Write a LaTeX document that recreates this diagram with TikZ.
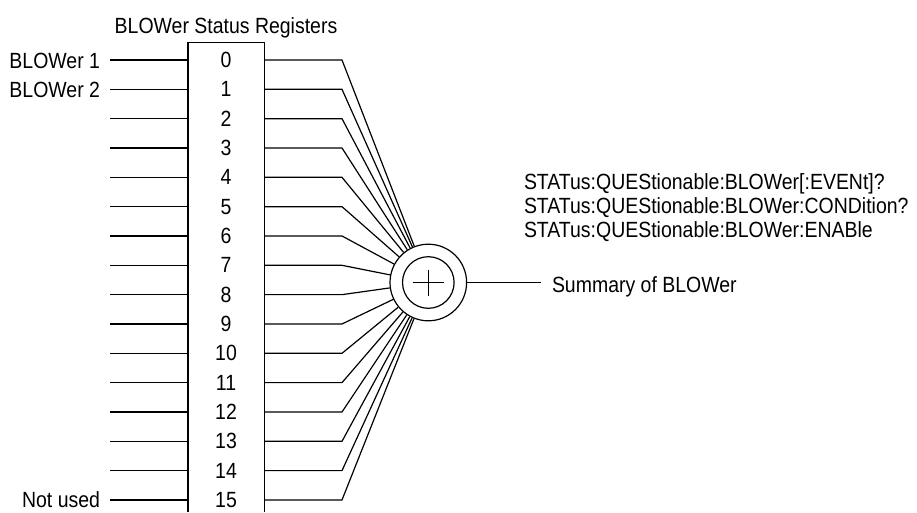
\documentclass[tikz,border=0pt]{standalone}
\usepackage{fontspec}
\setmainfont[FakeStretch=0.885]{Liberation Sans}
\begin{document}
\begin{tikzpicture}[x=1pt,y=-1pt, line width=1.2pt,
  lbl/.style={font=\fontsize{22}{26}\selectfont, inner sep=0pt, outer sep=0pt}]
\useasboundingbox (0,0) rectangle (917,512);
% summation circle
\node[draw, circle, minimum size=76.6pt, inner sep=0pt] (sum) at (428.3,282.5) {};
\draw (sum.center) circle[radius=25.8];
\draw ([xshift=-15.8pt]sum.center) -- ([xshift=15.8pt]sum.center);
\draw ([yshift=13pt]sum.center) -- ([yshift=-13pt]sum.center);
% register box
\coordinate (boxBL) at (188,512);
\coordinate (boxTL) at (188,42.7);
\coordinate (boxTR) at (264.3,42.7);
\coordinate (boxBR) at (264.3,512);
\draw (boxBL) -- (boxTL) -- (boxTR) -- (boxBR);
\node[lbl, anchor=base] (title) at (226,33) {BLOWer Status Registers};
% rows
\foreach \i in {0,...,15}{
  \pgfmathsetmacro\yy{60+29.33*\i}
  \coordinate (L\i) at (110,\yy);
  \coordinate (BL\i) at (188,\yy);
  \coordinate (BR\i) at (264.3,\yy);
  \coordinate (K\i) at (342,\yy);
  \node[lbl] (d\i) at (226,\yy) {\i};
  \draw (L\i) -- (BL\i);
  \draw (BR\i) -- (K\i) -- (sum);
}
\node[lbl, anchor=base east] (lab1) at ([xshift=-10pt, yshift=-8pt]L0) {BLOWer 1};
\node[lbl, anchor=base east] (lab2) at ([xshift=-10pt, yshift=-8pt]L1) {BLOWer 2};
\node[lbl, anchor=base east] (lab15) at ([xshift=-10pt, yshift=-8pt]L15) {Not used};
% output
\coordinate (out) at (541,282.5);
\draw (sum) -- (out);
\node[lbl, anchor=base west] (summ) at (552,292) {Summary of BLOWer};
\node[lbl, anchor=base west] (t1) at (524,189) {STATus:QUEStionable:BLOWer[:EVENt]?};
\node[lbl, anchor=base west] (t2) at (524,213) {STATus:QUEStionable:BLOWer:CONDition?};
\node[lbl, anchor=base west] (t3) at (524,237) {STATus:QUEStionable:BLOWer:ENABle};
\end{tikzpicture}
\end{document}
